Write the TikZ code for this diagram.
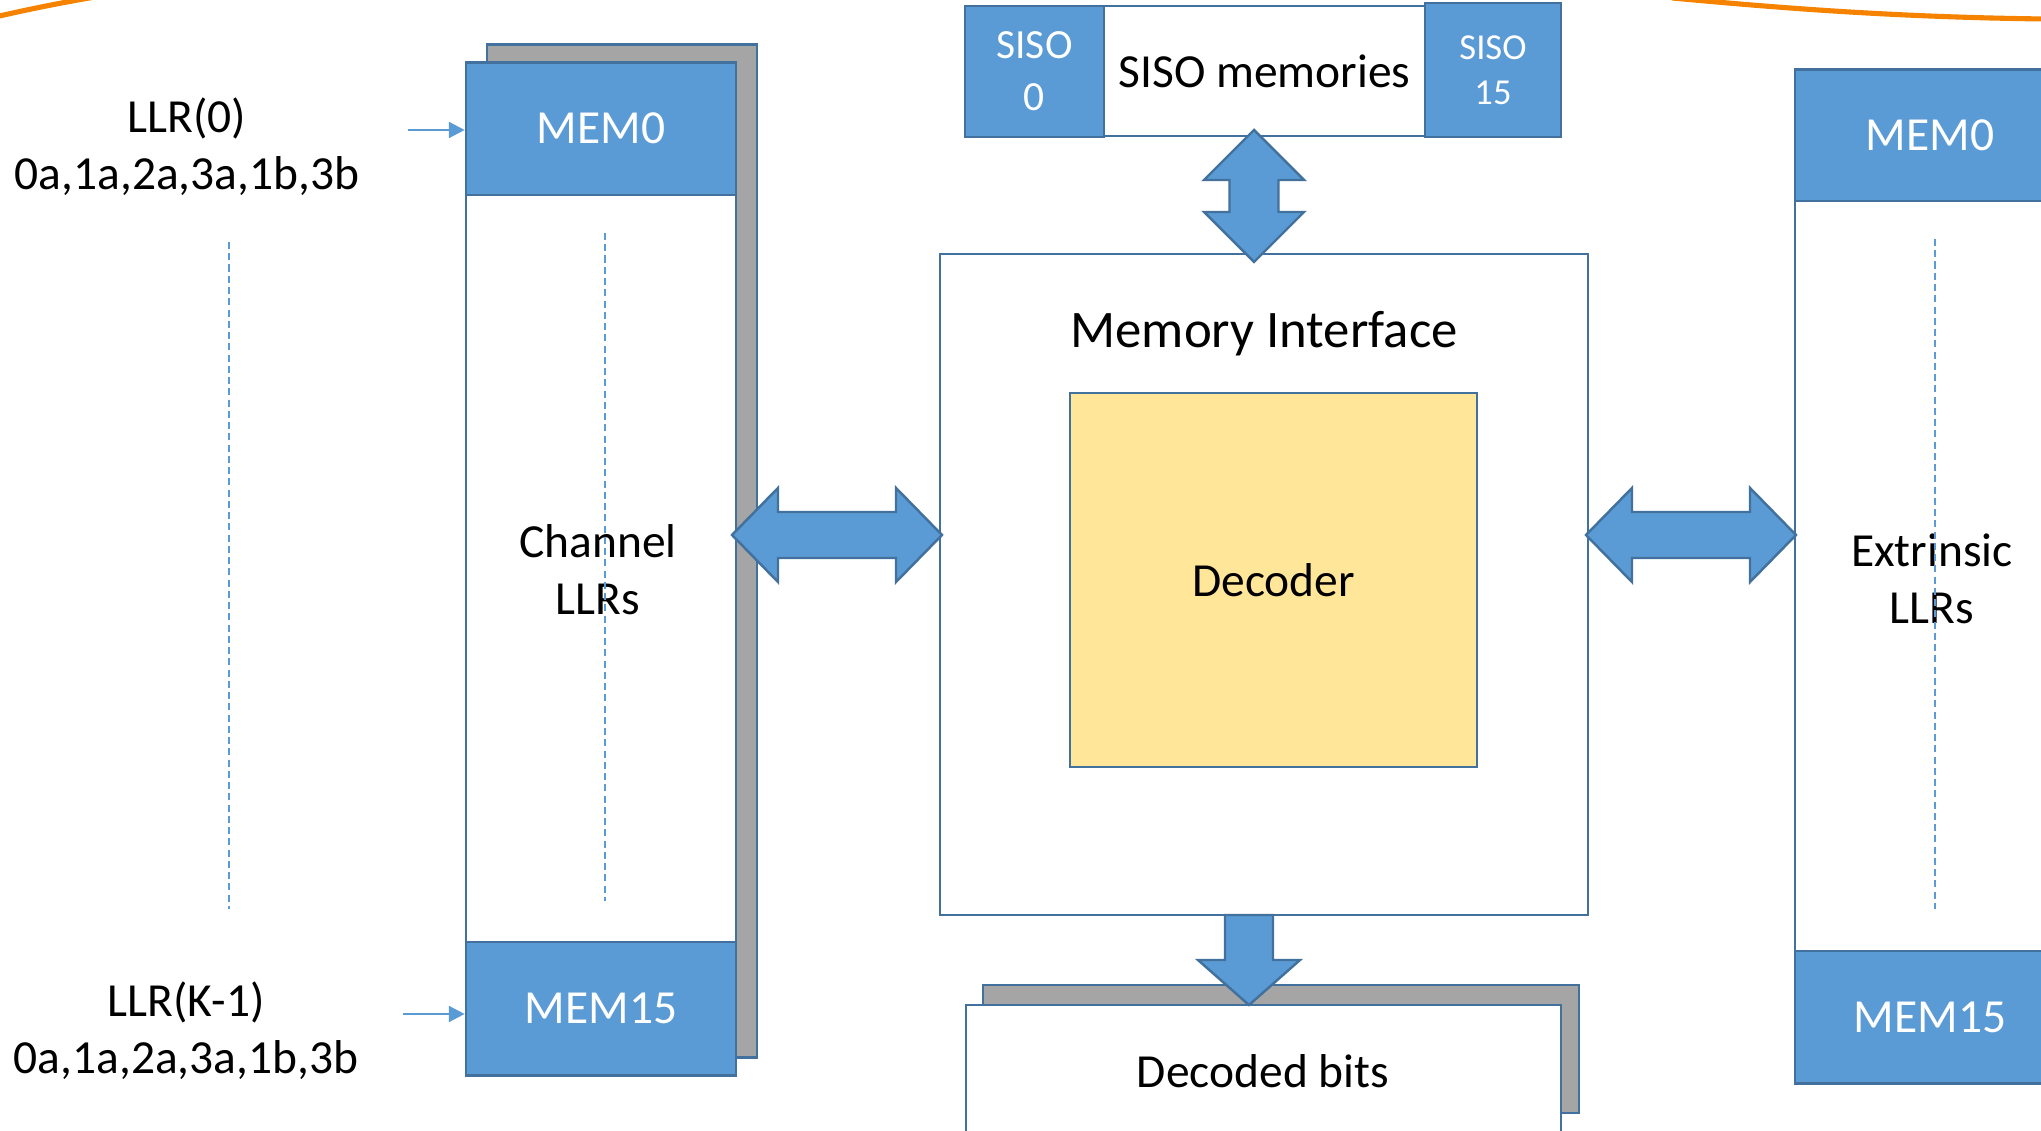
\documentclass[tikz,border=0pt]{standalone}
\usepackage{fontspec}
\setmainfont{Carlito}
\usetikzlibrary{arrows.meta}

\definecolor{fillblue}{HTML}{5B9BD5}
\definecolor{edgeblue}{HTML}{41719C}
\definecolor{shadowgray}{HTML}{A5A5A5}
\definecolor{decyellow}{HTML}{FFE699}
\definecolor{arcorange}{HTML}{F58300}

\tikzset{
  box/.style={draw=edgeblue, line width=0.7pt, fill=white, inner sep=0pt},
  shadowbox/.style={box, fill=shadowgray},
  memband/.style={box, fill=fillblue, text=white, align=center,
    font=\fontsize{13.5}{16.2}\selectfont},
  lbl/.style={inner sep=0pt, align=center, font=\fontsize{13.5}{16.2}\selectfont},
  guide/.style={draw=fillblue, line width=0.45pt, dash pattern=on 2pt off 1.2pt},
  feed/.style={draw=fillblue, line width=0.7pt, -{Triangle[length=4.5pt,width=4.5pt]}},
  blockarrow/.style={draw=edgeblue, fill=fillblue, line width=0.7pt, line join=miter},
  ring/.style={draw=arcorange, line width=1.45pt}
}

\begin{document}
\begin{tikzpicture}[x=0.01cm, y=-0.01cm]
\useasboundingbox (0,0) rectangle (2041,1131);
\clip (0,0) rectangle (2041,1131);

% orange arcs at the top corners
\draw[ring] (-5,17) .. controls (30,9) and (60,3) .. (95,-3);
\draw[ring] (1672,-2) .. controls (1760,6) and (1880,17) .. (2045,19);

% channel LLR memory bank
\node[shadowbox, minimum width=2.70cm, minimum height=10.12cm] (chshadow) at (622,551) {};
\node[box, minimum width=2.70cm, minimum height=10.12cm] (chbank) at (601,569) {};
\node[memband, minimum width=2.70cm, minimum height=1.32cm, anchor=north] (chmem0) at (chbank.north) {MEM0};
\node[memband, minimum width=2.70cm, minimum height=1.33cm, anchor=south] (chmem15) at (chbank.south) {MEM15};
\node[lbl] (chtext) at (598,569.5) {Channel\\LLRs};
\draw[guide] (605,233) -- (605,901);

% input LLR labels
\node[lbl] (llr0) at (187,146.5) {LLR(0)\\0a,1a,2a,3a,1b,3b};
\node[lbl] (llrK) at (186,1030.5) {LLR(K-1)\\0a,1a,2a,3a,1b,3b};
\draw[guide] (229,242) -- (229,909);
\coordinate (in0) at (408,130);
\coordinate (inK) at (403,1014);
\draw[feed] (in0) -- (in0 -| chmem0.west);
\draw[feed] (inK) -- (inK -| chmem15.west);

% SISO memories
\node[box, minimum width=3.21cm, minimum height=1.30cm, font=\fontsize{13.5}{16.2}\selectfont] (sisomem) at (1264.5,71) {SISO memories};
\node[memband, minimum width=1.39cm, minimum height=1.31cm, font=\fontsize{11.8}{14.8}\selectfont] (siso0) at (1034.5,71.5) {SISO\\0};
\node[memband, minimum width=1.36cm, minimum height=1.34cm, font=\fontsize{10.4}{12.8}\selectfont] (siso15) at (1493,70) {SISO\\15};

% memory interface and decoder
\node[box, minimum width=6.48cm, minimum height=6.61cm] (mi) at (1264,584.5) {};
\node[lbl, anchor=base, font=\fontsize{15}{18}\selectfont] (mititle) at (1264,348) {Memory Interface};
\node[box, fill=decyellow, minimum width=4.07cm, minimum height=3.74cm, font=\fontsize{13.5}{16.2}\selectfont] (dec) at (1273.5,580) {Decoder};

% decoded bits output
\node[shadowbox, minimum width=5.96cm, minimum height=1.28cm] (outshadow) at (1281,1049) {};
\node[box, minimum width=5.95cm, minimum height=1.55cm] (out) at (1263.5,1082.5) {};
\node[lbl, anchor=base] (outtext) at (1263,1088) {Decoded bits};

% extrinsic LLR memory bank
\node[box, minimum width=2.70cm, minimum height=10.13cm] (exbank) at (1930,576.5) {};
\node[memband, minimum width=2.70cm, minimum height=1.31cm, anchor=north] (exmem0) at (exbank.north) {MEM0};
\node[memband, minimum width=2.70cm, minimum height=1.32cm, anchor=south] (exmem15) at (exbank.south) {MEM15};
\node[lbl] (extext) at (1932,579) {Extrinsic\\LLRs};
\draw[guide] (1935,239) -- (1935,909);

% block arrows
\path[blockarrow] (1254,130) -- (1304,180) -- (1278.5,180) -- (1278.5,212) -- (1304,212)
  -- (1254,262) -- (1204,212) -- (1229.5,212) -- (1229.5,180) -- (1204,180) -- cycle;
\path[blockarrow] (732,535) -- (778,488) -- (778,512) -- (896,512) -- (896,488)
  -- (942,535) -- (896,582) -- (896,558) -- (778,558) -- (778,582) -- cycle;
\path[blockarrow] (1586,535) -- (1632,488) -- (1632,512) -- (1750,512) -- (1750,488)
  -- (1796,535) -- (1750,582) -- (1750,558) -- (1632,558) -- (1632,582) -- cycle;
\path[blockarrow] (1225,915) -- (1273,915) -- (1273,960) -- (1300,960) -- (1249,1005)
  -- (1198,960) -- (1225,960) -- cycle;
\end{tikzpicture}
\end{document}
